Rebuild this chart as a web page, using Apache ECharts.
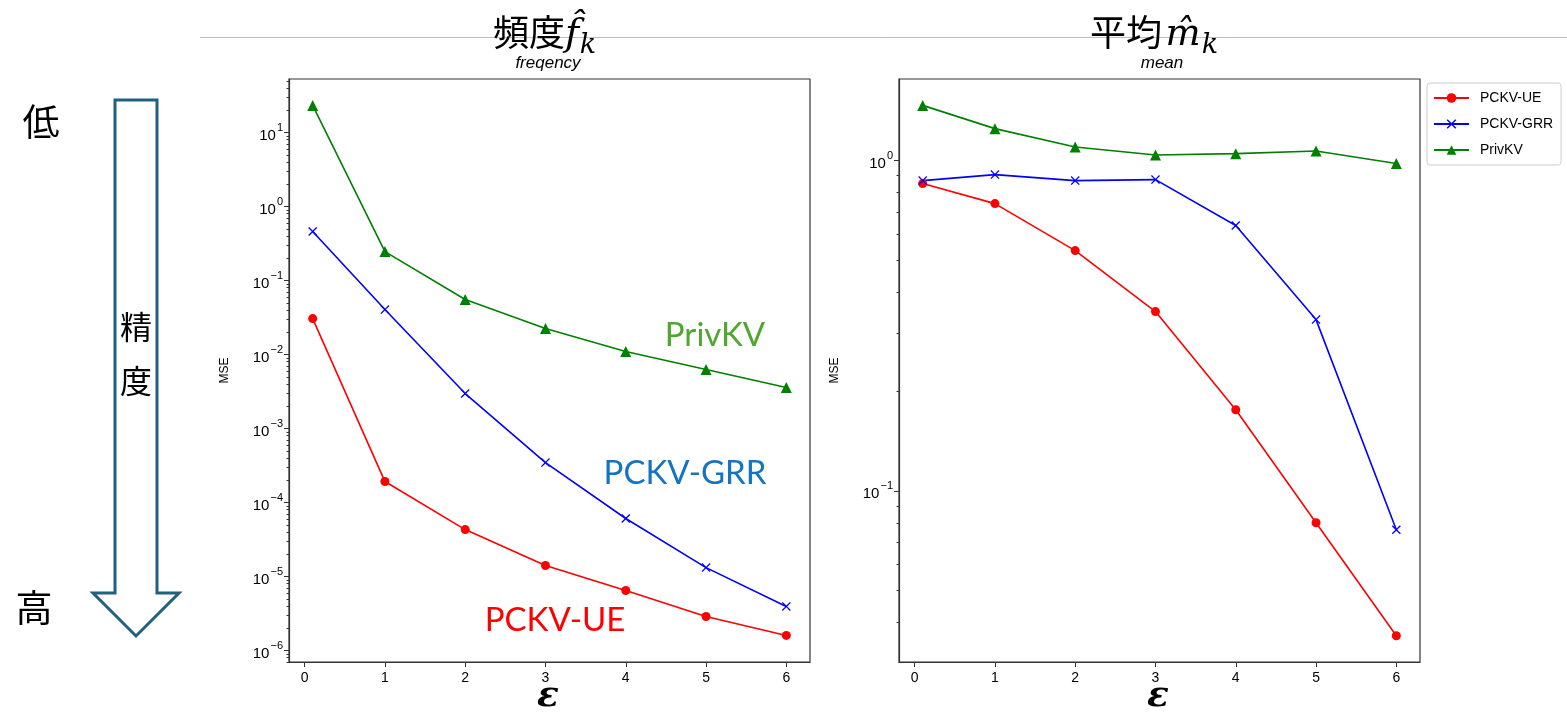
<!DOCTYPE html>
<html>
<head>
<meta charset="utf-8">
<script src="https://cdn.jsdelivr.net/npm/echarts@6/dist/echarts.min.js"></script>
<style>
html,body{margin:0;padding:0;background:#fff;}
#chart{width:1567px;height:717px;}
</style>
</head>
<body>
<div id="chart"></div>
<script>
// ---- data ----
const epsilon = [0.1, 1, 2, 3, 4, 5, 6];
const freqUE   = [0.0306, 1.92e-4, 4.31e-5, 1.41e-5, 6.47e-6, 2.88e-6, 1.6e-6];
const freqGRR  = [0.459, 0.0405, 0.00297, 3.47e-4, 6.08e-5, 1.32e-5, 3.94e-6];
const freqPriv = [23.2, 0.246, 0.0553, 0.0224, 0.0110, 0.00627, 0.00358];
const meanUE   = [0.852, 0.741, 0.534, 0.349, 0.176, 0.080, 0.0364];
const meanGRR  = [0.870, 0.907, 0.870, 0.876, 0.636, 0.330, 0.0762];
const meanPriv = [1.47, 1.25, 1.10, 1.04, 1.05, 1.07, 0.98];
const seriesNames = ['PCKV-UE', 'PCKV-GRR', 'PrivKV'];
const xTicks = [0, 1, 2, 3, 4, 5, 6];
const freqMajorTicks = [1e-6, 1e-5, 1e-4, 1e-3, 1e-2, 1e-1, 1, 10];
const meanMajorTicks = [0.1, 1];
const minorMultipliers = [2, 3, 4, 5, 6, 7, 8, 9];
const decades = [-7, -6, -5, -4, -3, -2, -1, 0, 1];

// ---- helpers ----
const minorTicks = [];
decades.forEach(d => minorMultipliers.forEach(m => minorTicks.push(+(m * Math.pow(10, d)).toPrecision(6))));
const pairs = (ys) => epsilon.map((x, i) => [x, ys[i]]);
const FONT = '"Liberation Sans", Arial, sans-serif';
const crossPath = 'path://M0,1 L1,0 L5,4 L9,0 L10,1 L6,5 L10,9 L9,10 L5,6 L1,10 L0,9 L4,5 Z';
const colors = ['#ff0000', '#0000ff', '#008000'];
const symbols = ['circle', crossPath, 'triangle'];
const symbolSizes = [9, 9, 11];

function powLabel(v) {
  const e = Math.round(Math.log10(v));
  return '{b|10}{s|' + (e < 0 ? '\u2212' + (-e) : String(e)) + '}';
}
const powRich = {
  b: {fontSize: 15, fontFamily: FONT, color: '#000', lineHeight: 21, verticalAlign: 'bottom'},
  s: {fontSize: 11, fontFamily: FONT, color: '#000', lineHeight: 13, verticalAlign: 'top', padding: [0, 0, 0, 1]}
};

const yRanges = [
  {min: 7.0e-7, max: 52.8, major: freqMajorTicks},
  {min: 0.0303, max: 1.767, major: meanMajorTicks}
];

const grids = [
  {left: 289, top: 79, width: 521, height: 583, show: true, borderColor: '#333', borderWidth: 1.2, backgroundColor: 'transparent'},
  {left: 899, top: 79, width: 521, height: 583, show: true, borderColor: '#333', borderWidth: 1.2, backgroundColor: 'transparent'}
];

const xAxes = [0, 1].map(g => ({
  type: 'value', gridIndex: g, min: -0.195, max: 6.295,
  splitLine: {show: false},
  axisLine: {show: true, onZero: false, lineStyle: {color: '#333', width: 1.2}},
  axisTick: {show: true, length: 5, customValues: xTicks, lineStyle: {color: '#333'}},
  axisLabel: {customValues: xTicks, fontSize: 14, fontFamily: FONT, color: '#000', margin: 9}
}));

const yAxes = [];
[0, 1].forEach(g => {
  const r = yRanges[g];
  yAxes.push({
    type: 'log', logBase: 10, gridIndex: g, min: r.min, max: r.max, position: 'left',
    name: 'MSE', nameLocation: 'middle', nameGap: 58,
    nameTextStyle: {fontSize: 12, fontFamily: FONT, color: '#000'},
    splitLine: {show: false},
    axisLine: {show: true, onZero: false, lineStyle: {color: '#333', width: 1.2}},
    axisTick: {show: true, length: 5, customValues: r.major, lineStyle: {color: '#333'}},
    axisLabel: {customValues: r.major, formatter: powLabel, rich: powRich, margin: 6}
  });
});
[0, 1].forEach(g => {
  const r = yRanges[g];
  yAxes.push({
    type: 'log', logBase: 10, gridIndex: g, min: r.min, max: r.max, position: 'left',
    splitLine: {show: false},
    axisLine: {show: false, onZero: false},
    axisTick: {show: true, length: 2.5, customValues: minorTicks, lineStyle: {color: '#333'}},
    axisLabel: {show: false}
  });
});

const freqData = [freqUE, freqGRR, freqPriv];
const meanData = [meanUE, meanGRR, meanPriv];
const series = [];
[freqData, meanData].forEach((set, g) => {
  set.forEach((ys, i) => {
    series.push({
      name: seriesNames[i], type: 'line', xAxisIndex: g, yAxisIndex: g,
      data: pairs(ys), symbol: symbols[i], symbolSize: symbolSizes[i],
      itemStyle: {color: colors[i]}, lineStyle: {color: colors[i], width: 1.6},
      emphasis: {disabled: true}, animation: false
    });
  });
});

const CJK = '"Noto Sans CJK JP", "Noto Sans CJK SC", sans-serif';
const MATH = '"DejaVu Serif", "Liberation Serif", serif';
const txt = (x, y, text, extra) => ({type: 'text', x: x, y: y, z: 10, style: Object.assign({text: text, fill: '#000', align: 'center', verticalAlign: 'middle'}, extra)});
const graphics = [
  {type: 'line', shape: {x1: 200, y1: 37.5, x2: 1567, y2: 37.5}, style: {stroke: '#bdbdbd', lineWidth: 1}, z: 1},
  // left title
  txt(529, 32, '頻度', {fontSize: 36, fontFamily: CJK}),
  txt(572, 35, 'f\u0302', {fontSize: 38, fontStyle: 'italic', fontFamily: MATH}),
  txt(588, 46, 'k', {fontSize: 27, fontStyle: 'italic', fontFamily: MATH}),
  txt(548, 63, 'freqency', {fontSize: 17, fontStyle: 'italic', fontFamily: FONT}),
  // right title
  txt(1126, 32, '平均', {fontSize: 36, fontFamily: CJK}),
  txt(1183, 35, 'm\u0302', {fontSize: 37, fontStyle: 'italic', fontFamily: MATH}),
  txt(1210, 46, 'k', {fontSize: 27, fontStyle: 'italic', fontFamily: MATH}),
  txt(1162, 63, 'mean', {fontSize: 17, fontStyle: 'italic', fontFamily: FONT}),
  // x axis names
  txt(548, 697, 'ε', {fontSize: 36, fontWeight: 'bold', fontStyle: 'italic', fontFamily: MATH}),
  txt(1158, 697, 'ε', {fontSize: 36, fontWeight: 'bold', fontStyle: 'italic', fontFamily: MATH}),
  // precision arrow
  {type: 'polygon', shape: {points: [[115, 100], [157, 100], [157, 593], [179, 593], [136, 636], [93, 593], [115, 593]]},
    style: {fill: '#fff', stroke: '#22607f', lineWidth: 3, lineJoin: 'miter'}},
  txt(136, 327, '精', {fontSize: 32, fontFamily: CJK}),
  txt(136, 381, '度', {fontSize: 32, fontFamily: CJK}),
  txt(41, 122, '低', {fontSize: 37, fontFamily: CJK}),
  txt(34, 608, '高', {fontSize: 37, fontFamily: CJK}),
  // annotations
  txt(715, 335, 'PrivKV', {fontSize: 33, fontFamily: 'Lato, "Open Sans", sans-serif', fill: '#4ea72e'}),
  txt(685, 473, 'PCKV-GRR', {fontSize: 33, fontFamily: 'Lato, "Open Sans", sans-serif', fill: '#1473c2'}),
  txt(555, 620, 'PCKV-UE', {fontSize: 33, fontFamily: 'Lato, "Open Sans", sans-serif', fill: '#ff0000'})
];

const chart = echarts.init(document.getElementById('chart'), null, {renderer: 'canvas'});
chart.setOption({
  backgroundColor: '#fff',
  animation: false,
  grid: grids,
  xAxis: xAxes,
  yAxis: yAxes,
  series: series,
  legend: {
    data: seriesNames, orient: 'vertical', left: 1427, top: 83,
    itemWidth: 35, itemHeight: 12, itemGap: 12,
    padding: [8, 8, 8, 6], borderColor: '#cccccc', borderWidth: 1, borderRadius: 3,
    backgroundColor: '#fff',
    textStyle: {fontSize: 14, fontFamily: FONT, color: '#000', padding: [0, 0, 0, 6]},
    selectedMode: false
  },
  graphic: graphics
});
</script>
</body>
</html>
